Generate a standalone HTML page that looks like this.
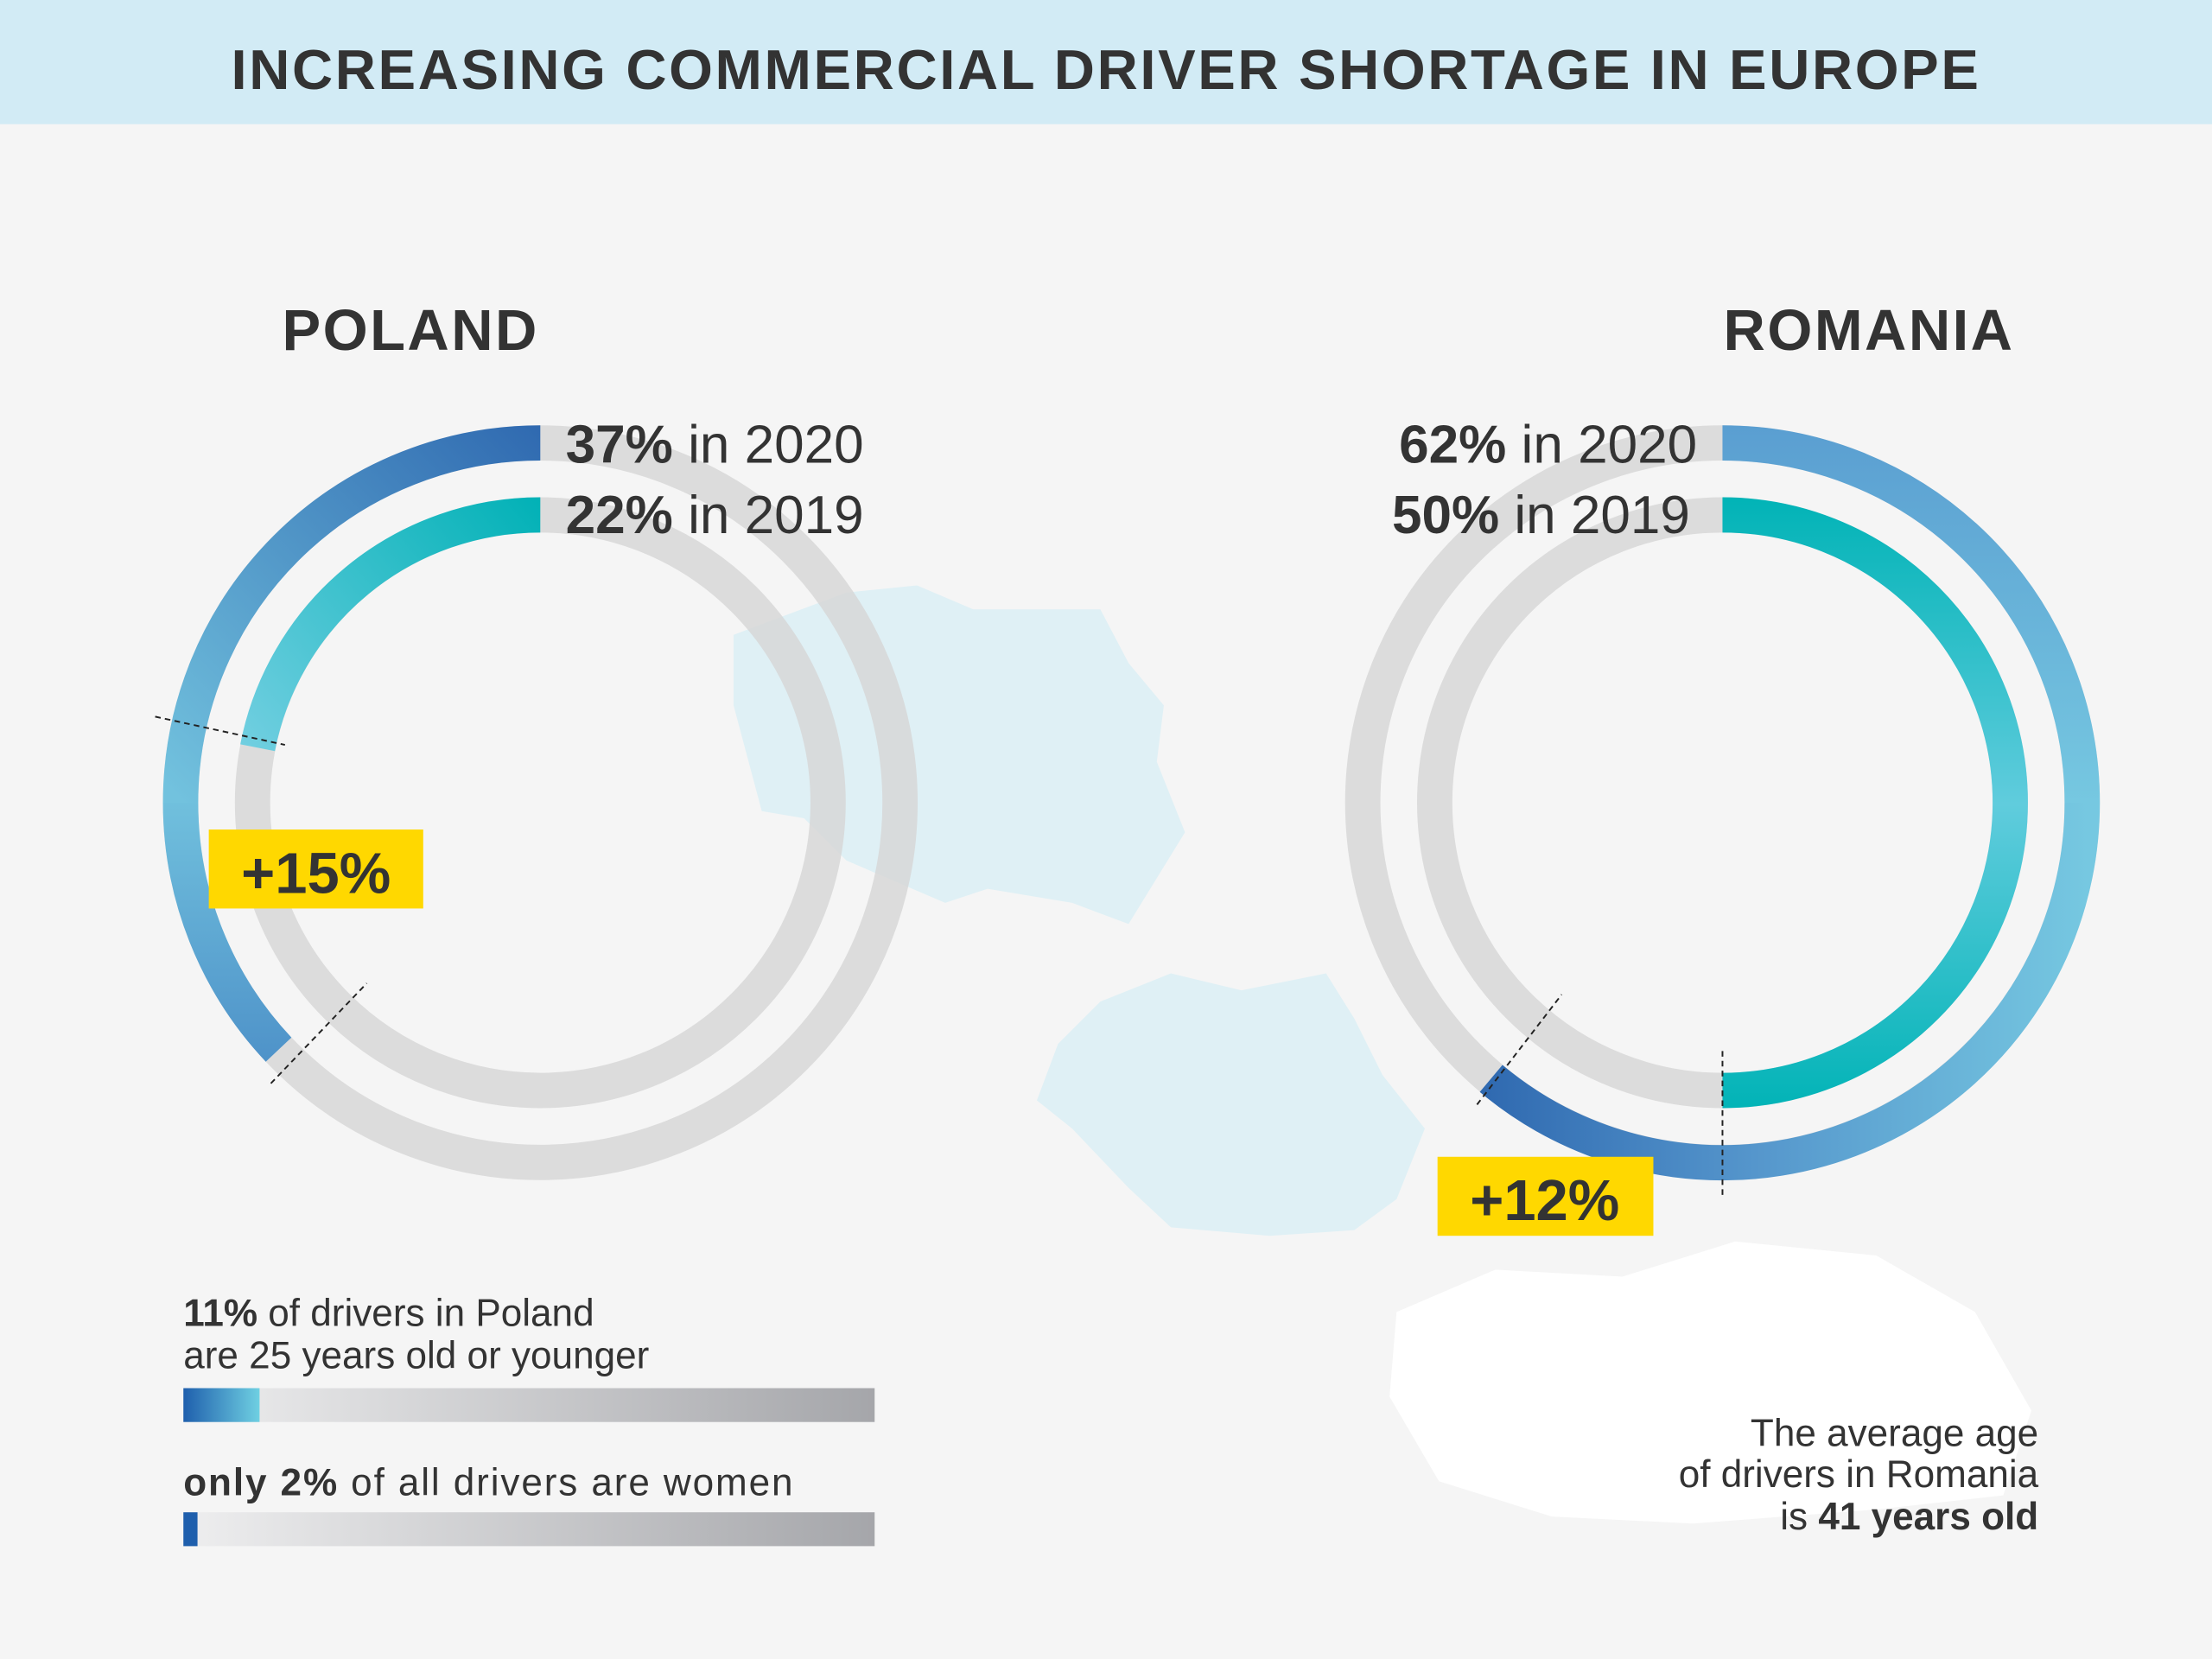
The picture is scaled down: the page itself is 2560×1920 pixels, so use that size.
<!DOCTYPE html>
<html><head><meta charset="utf-8"><style>
html,body{margin:0;padding:0;background:#f5f5f5}
svg{display:block}
text{font-family:"Liberation Sans",sans-serif}
</style></head><body>
<svg width="2560" height="1920" viewBox="0 0 1568 1176" xmlns="http://www.w3.org/2000/svg">
<defs>
<linearGradient id="po" gradientUnits="userSpaceOnUse" x1="383" y1="300" x2="120" y2="560"><stop offset="0" stop-color="#2f69b0"/><stop offset="1" stop-color="#72c2de"/></linearGradient>
<linearGradient id="po2" gradientUnits="userSpaceOnUse" x1="0" y1="560" x2="0" y2="770"><stop offset="0" stop-color="#72c2de"/><stop offset="1" stop-color="#4b8ec7"/></linearGradient>
<linearGradient id="pi" gradientUnits="userSpaceOnUse" x1="383" y1="350" x2="170" y2="530"><stop offset="0" stop-color="#00b1b6"/><stop offset="1" stop-color="#72cfe1"/></linearGradient>
<linearGradient id="ro" gradientUnits="userSpaceOnUse" x1="0" y1="300" x2="0" y2="570"><stop offset="0" stop-color="#5a9ed1"/><stop offset="1" stop-color="#76c8e1"/></linearGradient>
<linearGradient id="ro2" gradientUnits="userSpaceOnUse" x1="1480" y1="0" x2="1050" y2="0"><stop offset="0" stop-color="#76c8e1"/><stop offset="0.55" stop-color="#5596cc"/><stop offset="1" stop-color="#2f69b0"/></linearGradient>
<linearGradient id="ri" gradientUnits="userSpaceOnUse" x1="0" y1="350" x2="0" y2="790"><stop offset="0" stop-color="#00b3b6"/><stop offset="0.5" stop-color="#60ccdd"/><stop offset="1" stop-color="#00b3b6"/></linearGradient>
<linearGradient id="bar" x1="0" y1="0" x2="1" y2="0"><stop offset="0" stop-color="#eeeeef"/><stop offset="1" stop-color="#a5a6aa"/></linearGradient>
<linearGradient id="bb" x1="0" y1="0" x2="1" y2="0"><stop offset="0" stop-color="#1f5fad"/><stop offset="1" stop-color="#6fd0e2"/></linearGradient>
</defs>
<rect width="1568" height="1176" fill="#f5f5f5"/>
<path d="M990 930 L1060 900 L1150 905 L1230 880 L1330 890 L1400 930 L1440 1000 L1420 1060 L1330 1070 L1200 1080 L1100 1075 L1020 1050 L985 990 Z" fill="#ffffff"/>
<path d="M520 450 L600 420 L650 415 L690 432 L780 432 L800 470 L825 500 L820 540 L840 590 L800 655 L760 640 L700 630 L670 640 L600 610 L570 580 L540 575 L520 500 Z" fill="#dff0f5"/>
<path d="M780 710 L830 690 L880 702 L940 690 L960 722 L980 762 L1010 800 L990 850 L960 872 L900 876 L830 870 L800 842 L760 800 L735 780 L750 740 Z" fill="#dff0f5"/>
<rect width="1568" height="88" fill="#d2ebf5"/>
<text x="784" y="63" text-anchor="middle" font-size="40" font-weight="bold" fill="#333" letter-spacing="1.6">INCREASING COMMERCIAL DRIVER SHORTAGE IN EUROPE</text>
<text x="200" y="248" font-size="41" font-weight="bold" fill="#333" letter-spacing="1.5">POLAND</text>
<g fill="none" stroke-width="25">
<circle cx="383" cy="569" r="255" stroke="#d7d7d7" stroke-opacity="0.85"/>
<circle cx="383" cy="569" r="204" stroke="#d7d7d7" stroke-opacity="0.85"/>
<path d="M383 314 A255 255 0 0 0 128 569" stroke="url(#po)"/>
<path d="M128 569 A255 255 0 0 0 197.5 744" stroke="url(#po2)"/>
<path d="M383 365 A204 204 0 0 0 182.6 530" stroke="url(#pi)"/>
</g>
<g stroke="#222" stroke-width="1.2" stroke-dasharray="4 3">
<line x1="110" y1="508" x2="202" y2="528"/>
<line x1="192" y1="768" x2="260" y2="697"/>
</g>
<text x="401" y="328" font-size="38" fill="#333"><tspan font-weight="bold">37%</tspan> in 2020</text>
<text x="401" y="378" font-size="38" fill="#333"><tspan font-weight="bold">22%</tspan> in 2019</text>
<rect x="148" y="588" width="152" height="56" fill="#ffd800"/>
<text x="224" y="633" text-anchor="middle" font-size="41" font-weight="bold" fill="#333">+15%</text>
<text x="1428" y="248" text-anchor="end" font-size="41" font-weight="bold" fill="#333" letter-spacing="1.5">ROMANIA</text>
<g fill="none" stroke-width="25">
<circle cx="1221" cy="569" r="255" stroke="#d7d7d7" stroke-opacity="0.85"/>
<circle cx="1221" cy="569" r="204" stroke="#d7d7d7" stroke-opacity="0.85"/>
<path d="M1221 314 A255 255 0 0 1 1476 569" stroke="url(#ro)"/>
<path d="M1476 569 A255 255 0 0 1 1057 764.5" stroke="url(#ro2)"/>
<path d="M1221 365 A204 204 0 0 1 1221 773" stroke="url(#ri)"/>
</g>
<g stroke="#222" stroke-width="1.2" stroke-dasharray="4 3">
<line x1="1047" y1="783" x2="1107" y2="705"/>
<line x1="1221" y1="745" x2="1221" y2="848"/>
</g>
<text x="1203" y="328" text-anchor="end" font-size="38" fill="#333"><tspan font-weight="bold">62%</tspan> in 2020</text>
<text x="1198" y="378" text-anchor="end" font-size="38" fill="#333"><tspan font-weight="bold">50%</tspan> in 2019</text>
<rect x="1019" y="820" width="153" height="56" fill="#ffd800"/>
<text x="1095" y="865" text-anchor="middle" font-size="41" font-weight="bold" fill="#333">+12%</text>
<text x="130" y="940" font-size="27" fill="#333"><tspan font-weight="bold">11%</tspan> of drivers in Poland</text>
<text x="130" y="970" font-size="27" fill="#333">are 25 years old or younger</text>
<rect x="130" y="984" width="490" height="24" fill="url(#bar)"/>
<rect x="130" y="984" width="54" height="24" fill="url(#bb)"/>
<text x="130" y="1060" font-size="27" fill="#333" textLength="432"><tspan font-weight="bold">only 2%</tspan> of all drivers are women</text>
<rect x="130" y="1072" width="490" height="24" fill="url(#bar)"/>
<rect x="130" y="1072" width="10" height="24" fill="#1f5fad"/>
<text x="1445" y="1025" text-anchor="end" font-size="27" fill="#333">The average age</text>
<text x="1445" y="1054" text-anchor="end" font-size="27" fill="#333">of drivers in Romania</text>
<text x="1445" y="1084" text-anchor="end" font-size="27" fill="#333">is <tspan font-weight="bold">41 years old</tspan></text>
</svg>
</body></html>
